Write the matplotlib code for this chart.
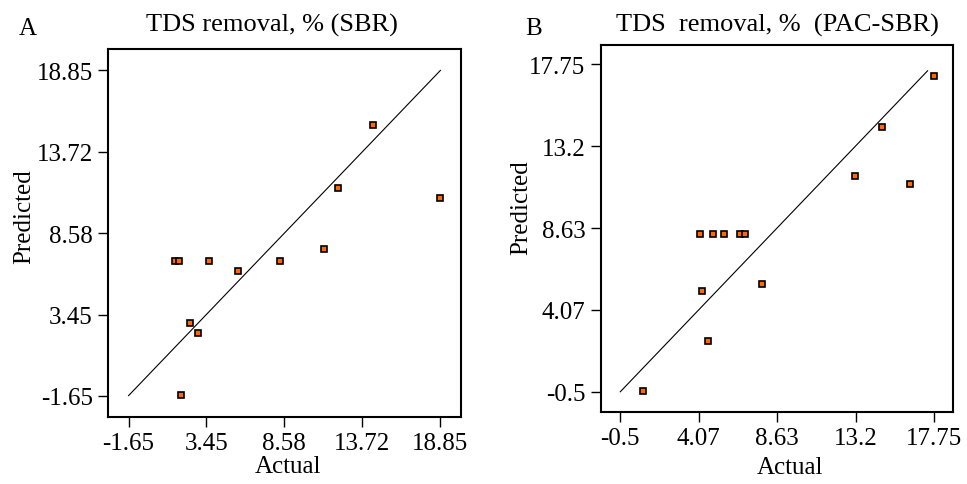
import matplotlib.pyplot as plt

plt.rcParams['font.family'] = ['Liberation Serif', 'DejaVu Serif']

# Panel A - SBR
sbr_actual = [14.40, 12.14, 18.83, 11.20, 1.40, 1.66, 3.65, 5.54, 8.30, 2.38, 2.89, 1.79]
sbr_pred = [15.38, 11.41, 10.78, 7.59, 6.85, 6.85, 6.85, 6.19, 6.85, 2.93, 2.27, -1.61]
sbr_ticks = [-1.65, 3.45, 8.58, 13.72, 18.85]
sbr_labels = ['-1.65', '3.45', '8.58', '13.72', '18.85']

# Panel B - PAC-SBR
pac_actual = [17.75, 14.74, 13.15, 16.36, 4.16, 4.90, 5.56, 6.49, 6.75, 4.26, 7.77, 4.59, 0.80]
pac_pred = [17.09, 14.28, 11.53, 11.09, 8.31, 8.31, 8.31, 8.31, 8.31, 5.11, 5.52, 2.31, -0.44]
pac_ticks = [-0.5, 4.07, 8.63, 13.2, 17.75]
pac_labels = ['-0.5', '4.07', '8.63', '13.2', '17.75']

W, H = 967, 485


def draw_panel(ax, actual, pred, ticks, labels, lims, line_end, xlab_pos, ylab_pos):
    # 45 degree reference line
    ax.plot([ticks[0], line_end], [ticks[0], line_end], color='black', lw=0.8)
    ax.plot(actual, pred, 's', markersize=5, markerfacecolor='#ff6a00',
            markeredgecolor='black', markeredgewidth=1.2, linestyle='')
    ax.set_xlim(lims)
    ax.set_ylim(lims)
    ax.set_xticks(ticks)
    ax.set_xticklabels(labels)
    ax.set_yticks(ticks)
    ax.set_yticklabels(labels)
    ax.tick_params(direction='out', length=7, width=1, labelsize=18, pad=4)
    for s in ax.spines.values():
        s.set_linewidth(1.5)
    ax.set_xlabel('Actual', fontsize=18)
    ax.set_ylabel('Predicted', fontsize=18)
    ax.xaxis.set_label_coords(*xlab_pos)
    ax.yaxis.set_label_coords(*ylab_pos)


fig = plt.figure(figsize=(W / 100, H / 100), dpi=100)
ax1 = fig.add_axes([0.1117, 0.138, 0.365, 0.759])
ax2 = fig.add_axes([0.6212, 0.148, 0.364, 0.758])

draw_panel(ax1, sbr_actual, sbr_pred, sbr_ticks, sbr_labels, (-3.0, 20.2), 18.85,
           (0.51, -0.103), (-0.207, 0.546))
draw_panel(ax2, pac_actual, pac_pred, pac_ticks, pac_labels, (-1.64, 18.86), 17.4,
           (0.538, -0.118), (-0.195, 0.56))

# titles and panel letters
fig.text(272 / W, 1 - 25 / H, 'TDS removal, % (SBR)', fontsize=19, ha='center', va='center')
fig.text(777 / W, 1 - 25 / H, 'TDS  removal, %  (PAC-SBR)', fontsize=19, ha='center', va='center')
fig.text(28 / W, 1 - 29 / H, 'A', fontsize=18, ha='center', va='center')
fig.text(534 / W, 1 - 29 / H, 'B', fontsize=18, ha='center', va='center')

fig.savefig('out.png', dpi=100)
